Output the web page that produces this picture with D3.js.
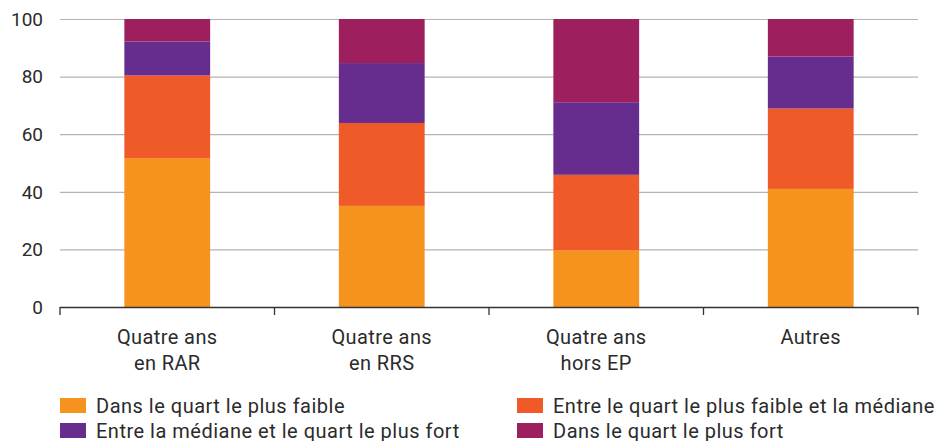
<!DOCTYPE html>
<html>
<head>
<meta charset="utf-8">
<script src="https://cdn.jsdelivr.net/npm/d3@7"></script>
<style>
  body { margin: 0; background: #fff; }
  text { font-family: Roboto, "DejaVu Sans", sans-serif; fill: #2b2b2b; }
</style>
</head>
<body>
<svg id="chart" width="941" height="441"></svg>
<script>
// categories (two-line labels)
const categories = ["Quatre ans\nen RAR", "Quatre ans\nen RRS", "Quatre ans\nhors EP", "Autres"];
const seriesNames = [
  "Dans le quart le plus faible",
  "Entre le quart le plus faible et la médiane",
  "Entre la médiane et le quart le plus fort",
  "Dans le quart le plus fort"
];
const colors = ["#f6931e", "#f05a28", "#662d8f", "#9e1f5e"];
// values per series, in category order
const lowest = [51.7, 35.1, 19.7, 41.0];
const lowToMedian = [28.7, 28.8, 26.2, 27.9];
const medianToHigh = [11.8, 20.8, 25.2, 18.1];
const highest = [7.8, 15.3, 28.9, 13.0];
const yTicks = [0, 20, 40, 60, 80, 100];

const series = [lowest, lowToMedian, medianToHigh, highest];
const table = categories.map((c, i) => {
    const row = {cat: c};
    seriesNames.forEach((s, j) => row[s] = series[j][i]);
    return row;
});
const stacked = d3.stack().keys(seriesNames)(table);

const svg = d3.select("#chart");
const mLeft = 60, mRight = 918, mTop = 19, mBottom = 307;

const x = d3.scaleBand()
    .domain(categories)
    .range([mLeft, mRight])
    .paddingInner(0.6)
    .paddingOuter(0.3);

const y = d3.scaleLinear().domain([0, 100]).range([mBottom, mTop]);

// grid
svg.append("g")
    .selectAll("line")
    .data(yTicks.filter(d => d > 0))
    .join("line")
    .attr("x1", mLeft)
    .attr("x2", mRight)
    .attr("y1", d => y(d) + 0.5)
    .attr("y2", d => y(d) + 0.5)
    .attr("stroke", "#b3b3b3")
    .attr("stroke-width", 1.2);

// y labels
svg.append("g")
    .selectAll("text")
    .data(yTicks)
    .join("text")
    .attr("x", 43)
    .attr("y", d => y(d))
    .attr("dy", "0.36em")
    .attr("text-anchor", "end")
    .attr("font-size", 19)
    .text(d => d);

// bars
svg.append("g")
    .selectAll("g")
    .data(stacked)
    .join("g")
    .attr("fill", (d, i) => colors[i])
    .selectAll("rect")
    .data(d => d)
    .join("rect")
    .attr("x", d => x(d.data.cat))
    .attr("width", x.bandwidth())
    .attr("y", d => y(d[1]))
    .attr("height", d => y(d[0]) - y(d[1]));

// x axis
const edges = d3.range(categories.length + 1).map(i => mLeft + i * (mRight - mLeft) / categories.length);
const axis = svg.append("g");
axis.append("line")
    .attr("x1", mLeft).attr("x2", mRight + 0.5)
    .attr("y1", mBottom + 0.5).attr("y2", mBottom + 0.5)
    .attr("stroke", "#333").attr("stroke-width", 1.5);
axis.selectAll(".tick")
    .data(edges)
    .join("line")
    .attr("class", "tick")
    .attr("x1", d => d).attr("x2", d => d)
    .attr("y1", mBottom).attr("y2", mBottom + 8)
    .attr("stroke", "#333").attr("stroke-width", 1.3);

axis.selectAll(".lbl")
    .data(categories)
    .join("text")
    .attr("class", "lbl")
    .attr("x", d => x(d) + x.bandwidth() / 2)
    .attr("y", 344)
    .attr("text-anchor", "middle")
    .attr("font-size", 20)
    .attr("letter-spacing", 0.4)
    .selectAll("tspan")
    .data(d => d.split("\n"))
    .join("tspan")
    .attr("x", function() { return this.parentNode.getAttribute("x"); })
    .attr("dy", (d, i) => i ? 26 : 0)
    .text(d => d);

// legend
const legendPos = [[60, 398], [517, 398], [60, 423], [517, 423]];
const legend = svg.append("g")
    .selectAll("g")
    .data(seriesNames)
    .join("g")
    .attr("transform", (d, i) => `translate(${legendPos[i][0]},${legendPos[i][1]})`);
legend.append("rect")
    .attr("width", 26)
    .attr("height", 15)
    .attr("fill", (d, i) => colors[i]);
legend.append("text")
    .attr("x", 36)
    .attr("y", 15)
    .attr("font-size", 20)
    .attr("letter-spacing", 0.5)
    .text(d => d);
</script>
</body>
</html>
